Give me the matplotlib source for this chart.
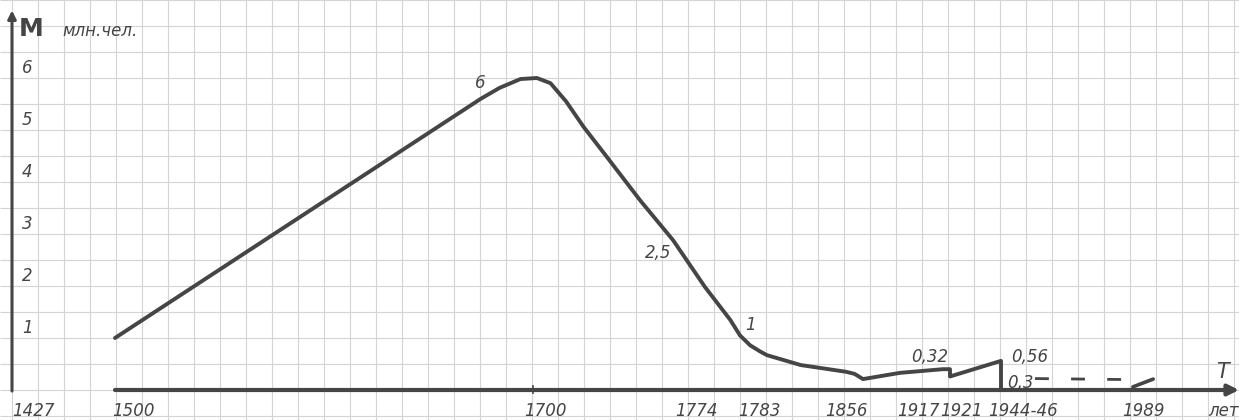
import numpy as np
import matplotlib.pyplot as plt

# population of the chart, mln people
years = [1500, 1675, 1684, 1694, 1702, 1709, 1717, 1726, 1738, 1755, 1772,
         1778, 1781.6, 1783, 1789, 1795, 1799, 1819, 1846, 1851, 1856, 1895, 1920, 1921, 1921,
         1944, 1944]
mln = [1.0, 5.6, 5.81, 5.98, 6.0, 5.90, 5.55, 5.06, 4.48, 3.65, 2.88,
       1.98, 1.35, 1.05, 0.86, 0.74, 0.67, 0.48, 0.35, 0.31, 0.21, 0.33, 0.40, 0.40, 0.26,
       0.56, 0.0]

# dashed part after 1944 and the small rise at 1989
dash_years = [1955, 1986]
dash_mln = [0.22, 0.20]
rise_years = [1986.7, 1991.8]
rise_mln = [0.06, 0.21]

# value labels written next to the curve
ann_years = [1700, 1774, 1783, 1917, 1944, 1944]
ann_mln = [6.0, 2.79, 1.05, 0.38, 0.56, 0.0]
ann_text = ['6', '2,5', '1', '0,32', '0,56', '0,3']
ann_off = [(-53, -5), (-19, -8), (10, 10), (9, 13), (29, 4), (19, 7)]

tick_years = [1427, 1500, 1700, 1774, 1783, 1856, 1917, 1921, 1944, 1989]
tick_labels = ['1427', '1500', '1700', '1774', '1783', '1856', '1917', '1921', '1944-46', '1989']
tick_dx = [0, -3, -9, -2, -2, -38, -24, -10, -13, -18]
ytick_vals = [1, 2, 3, 4, 5, 6]

# the time axis is not uniform: where each year sits along the drawing
scale_years = [1400, 1427, 1500, 1700, 1774, 1783, 1856, 1917, 1921, 1944, 1989, 2010]
scale_pos = [-26, 12, 115, 533, 677, 740, 863, 921, 950, 1001, 1140, 1239]

def fwd(x):
    return np.interp(x, scale_years, scale_pos, left=-1e4, right=1e4)

def inv(p):
    return np.interp(p, scale_pos, scale_years)

ink = '#454545'
hand = dict(family='DejaVu Sans', style='italic', color=ink)

fig = plt.figure(figsize=(12.39, 4.2), dpi=100)

# graph paper
bg = fig.add_axes([0, 0, 1, 1], zorder=0)
bg.set_xlim(0, 1239)
bg.set_ylim(420, 0)
bg.axis('off')
bg.vlines(np.arange(12, 1239, 26), 0, 420, color='#d4d4d4', lw=0.8)
bg.hlines(np.arange(0, 420, 26), 0, 1239, color='#d4d4d4', lw=0.8)

ax = fig.add_axes([0, 30 / 420, 1, 390 / 420], zorder=1)
ax.patch.set_visible(False)
ax.set_xscale('function', functions=(fwd, inv))
ax.set_xlim(float(inv(0)), float(inv(1239)))
ax.set_ylim(0, 7.5)
ax.axis('off')

# axes drawn by hand
ax.annotate('', xy=(1427, 7.3), xytext=(1427, -0.02),
            arrowprops=dict(arrowstyle='-|>', color=ink, lw=2.2, mutation_scale=12,
                            shrinkA=0, shrinkB=0),
            annotation_clip=False)
ax.annotate('', xy=(2010, 0), xytext=(1500, 0),
            arrowprops=dict(arrowstyle='-|>', color=ink, lw=3, mutation_scale=16,
                            shrinkA=0, shrinkB=0),
            annotation_clip=False)
ax.plot([1700, 1700], [-0.05, 0.08], color=ink, lw=1.2, clip_on=False)

ax.plot(years, mln, color=ink, lw=2.8, solid_capstyle='round', solid_joinstyle='round',
        clip_on=False)
ax.plot(dash_years, dash_mln, color=ink, lw=2, dashes=(5, 8), clip_on=False)
ax.plot(rise_years, rise_mln, color=ink, lw=2.6, solid_capstyle='round', clip_on=False)

for yr, v, t, (dx, dy) in zip(ann_years, ann_mln, ann_text, ann_off):
    ax.annotate(t, xy=(yr, v), xytext=(dx, dy), textcoords='offset pixels',
                ha='center', va='center', fontsize=12, annotation_clip=False, **hand)

for yr, lab, dx in zip(tick_years, tick_labels, tick_dx):
    ax.annotate(lab, xy=(yr, 0), xytext=(dx, -21), textcoords='offset pixels',
                ha='left', va='center', fontsize=12, annotation_clip=False, **hand)

for v in ytick_vals:
    ax.annotate(str(v), xy=(1427, v), xytext=(15, 10), textcoords='offset pixels',
                ha='center', va='center', fontsize=12, annotation_clip=False, **hand)

ax.annotate('М', xy=(1427, 7.25), xytext=(19, -16), textcoords='offset pixels',
            ha='center', va='center', fontsize=18, annotation_clip=False,
            family='DejaVu Sans', weight='bold', color=ink)
ax.annotate('млн.чел.', xy=(1427, 7.25), xytext=(50, -18), textcoords='offset pixels',
            ha='left', va='center', fontsize=12, annotation_clip=False, **hand)
ax.annotate('Т', xy=(2010, 0), xytext=(-17, 18), textcoords='offset pixels',
            ha='center', va='center', fontsize=15, annotation_clip=False, **hand)
ax.annotate('лет', xy=(2010, 0), xytext=(-31, -21), textcoords='offset pixels',
            ha='left', va='center', fontsize=12, annotation_clip=False, **hand)

fig.savefig('out.png', dpi=100)
